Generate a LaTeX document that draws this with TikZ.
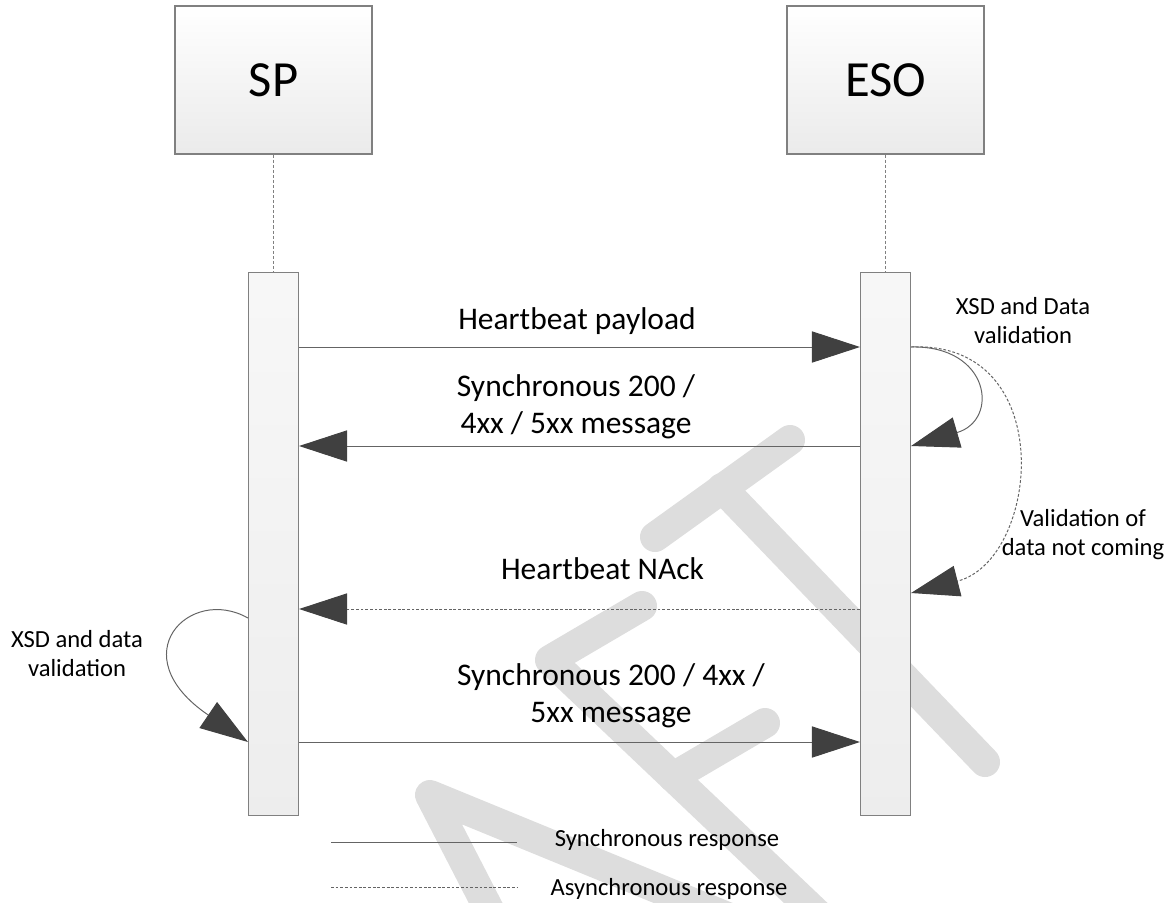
\documentclass[tikz,border=0pt]{standalone}
\usepackage{fontspec}
\setmainfont{Carlito}
\usetikzlibrary{arrows.meta}

\definecolor{edgegray}{RGB}{128,128,128}
\definecolor{linegray}{RGB}{100,100,100}
\definecolor{tipgray}{RGB}{64,64,64}
\definecolor{wmgray}{RGB}{221,221,221}

\tikzset{
	lifebox/.style={draw=edgegray, line width=0.8pt, top color=white, bottom color=black!8, minimum width=4.925cm, minimum height=3.7cm, font=\fontsize{36}{40}\selectfont},
	actbar/.style={draw=edgegray, line width=0.8pt, top color=black!3, bottom color=black!7, minimum width=1.25cm, minimum height=13.55cm},
	lifeline/.style={draw=edgegray, line width=0.5pt, dash pattern=on 2.2pt off 1.4pt},
	msg/.style={draw=linegray, line width=0.7pt, ->},
	asyncmsg/.style={msg, dash pattern=on 2pt off 1.3pt},
	msglabel/.style={anchor=base, align=center, font=\fontsize{22.4}{26.3}\selectfont},
	notelabel/.style={anchor=base, align=center, font=\fontsize{17.5}{20}\selectfont},
	watermark/.style={draw=wmgray, line width=0.75cm, line cap=round, line join=round}
}

\begin{document}
\begin{tikzpicture}[x=0.025cm, y=-0.025cm, >={Triangle[length=1.2cm, width=0.78cm, color=tipgray]}]
	\useasboundingbox (0,0) rectangle (1176,902);

	% watermark
	\begin{scope}
		\clip (0,0) rectangle (1176,902);
		\draw[watermark] (515,960) -- (430,795) -- (820,955);
		\draw[watermark] (642,606) -- (550,660) -- (850,945);
		\draw[watermark] (673,777) -- (765,723);
		\draw[watermark] (655,537) -- (790,440);
		\draw[watermark] (722,488) -- (985,762);
	\end{scope}

	\node[lifebox] (sp) at (273.5,80) {SP};
	\node[lifebox] (eso) at (885.5,80) {ESO};
	\node[actbar] (spbar) at (273.5,544) {};
	\node[actbar] (esobar) at (885.5,544) {};
	\draw[lifeline] (sp.south) -- (spbar.north);
	\draw[lifeline] (eso.south) -- (esobar.north);

	% message heights
	\coordinate (ypay) at (0,347);
	\coordinate (yret) at (0,446);
	\coordinate (yloop) at (0,593);
	\coordinate (ynack) at (0,609);
	\coordinate (yself) at (0,618);
	\coordinate (ysync) at (0,742);

	\draw[msg] (spbar.east |- ypay) -- (esobar.west |- ypay);
	\draw[msg] (esobar.west |- yret) -- (spbar.east |- yret);
	\draw[asyncmsg] (esobar.west |- ynack) -- (spbar.east |- ynack);
	\draw[msg] (spbar.east |- ysync) -- (esobar.west |- ysync);

	\draw[msg] (esobar.east |- ypay) .. controls (990,345) and (1000,420) .. (esobar.east |- yret);
	\draw[asyncmsg] (esobar.east |- ypay) .. controls (1060,340) and (1040,560) .. (esobar.east |- yloop);
	\draw[msg] (spbar.west |- yself) .. controls (190,585) and (120,655) .. (spbar.west |- ysync);

	% labels (base = last line)
	\node[msglabel] (lpay) at (577,329) {Heartbeat payload};
	\node[msglabel] (lret) at (576,433) {Synchronous 200 /\\4xx / 5xx message};
	\node[msglabel] (lnack) at (602.5,579) {Heartbeat NAck};
	\node[msglabel] (lsync) at (611,722) {Synchronous 200 / 4xx /\\5xx message};
	\node[notelabel] (lxsd) at (1023,343) {XSD and Data\\validation};
	\node[notelabel] (lval) at (1083,555) {Validation of\\data not coming};
	\node[notelabel] (lspxsd) at (77,676) {XSD and data\\validation};

	% legend
	\coordinate (synca) at (331,842);
	\coordinate (syncb) at (517,842);
	\coordinate (asynca) at (331,887);
	\coordinate (asyncb) at (517,887);
	\draw[msg, -] (synca) -- (syncb);
	\draw[asyncmsg, -] (asynca) -- (asyncb);
	\node[notelabel] (lsyncleg) at (667,846) {Synchronous response};
	\node[notelabel] (lasyncleg) at (669,895) {Asynchronous response};
\end{tikzpicture}
\end{document}
